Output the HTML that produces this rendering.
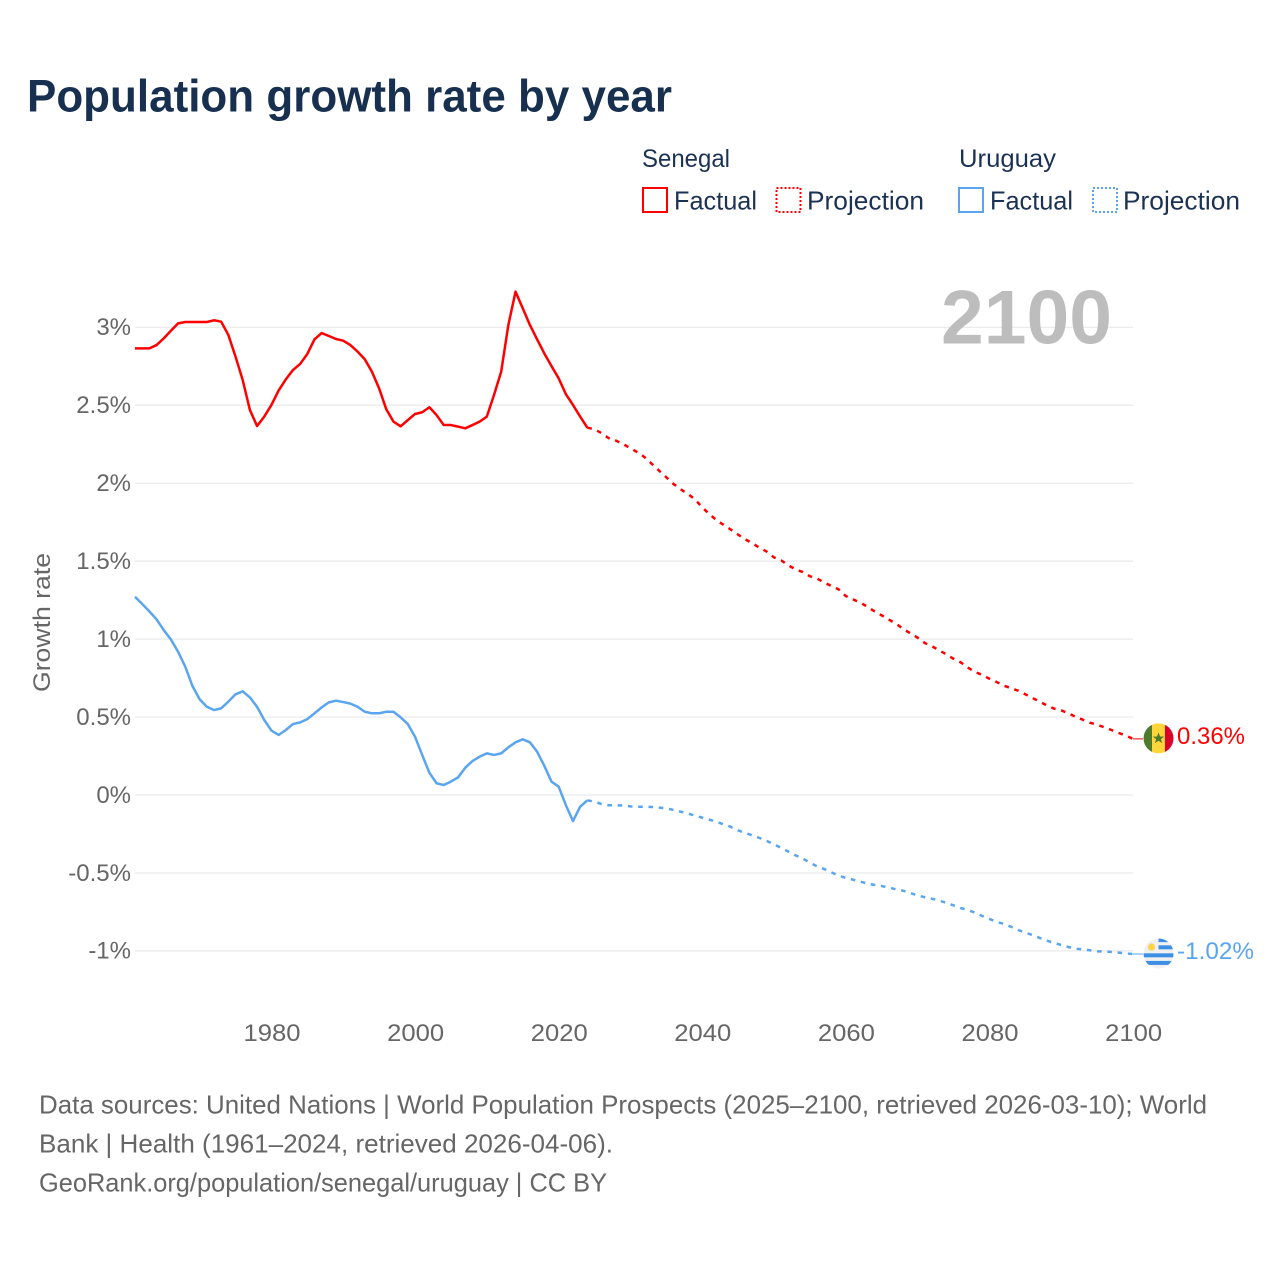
<!DOCTYPE html>
<html lang="en">
<head>
<meta charset="utf-8">
<title>Population growth rate by year</title>
<style>
html,body{margin:0;padding:0;background:#fff;}
svg{display:block;font-family:"Liberation Sans",sans-serif;}
</style>
</head>
<body>
<svg id="chart" xmlns="http://www.w3.org/2000/svg" width="1280" height="1280" viewBox="0 0 1280 1280">
<defs>
<clipPath id="flag-clip"><circle cx="0" cy="0" r="15"/></clipPath>
</defs>
<rect x="0" y="0" width="1280" height="1280" fill="#fff"/>
<text x="27" y="111.5" font-size="45" font-weight="700" fill="#18304f" textLength="645" lengthAdjust="spacingAndGlyphs">Population growth rate by year</text>

<g>
<text x="642" y="167" font-size="25" fill="#1b3254" textLength="88" lengthAdjust="spacingAndGlyphs">Senegal</text>
<rect x="643" y="188" width="24" height="24" fill="none" stroke="#ff0000" stroke-width="2"/>
<text x="674" y="209.5" font-size="26" fill="#1b3254" textLength="83" lengthAdjust="spacingAndGlyphs">Factual</text>
<rect x="776.5" y="188" width="24" height="24" fill="none" stroke="#ff0000" stroke-width="2" stroke-dasharray="2 2"/>
<text x="807" y="209.5" font-size="26" fill="#1b3254" textLength="117" lengthAdjust="spacingAndGlyphs">Projection</text>
<text x="959" y="167" font-size="25" fill="#1b3254" textLength="97" lengthAdjust="spacingAndGlyphs">Uruguay</text>
<rect x="959" y="188" width="24" height="24" fill="none" stroke="#5aa5ef" stroke-width="2"/>
<text x="990" y="209.5" font-size="26" fill="#1b3254" textLength="83" lengthAdjust="spacingAndGlyphs">Factual</text>
<rect x="1093" y="188" width="24" height="24" fill="none" stroke="#5aa5ef" stroke-width="2" stroke-dasharray="2 2"/>
<text x="1123" y="209.5" font-size="26" fill="#1b3254" textLength="117" lengthAdjust="spacingAndGlyphs">Projection</text>
</g>

<g id="grid"></g>
<g id="yticks"></g>
<g id="xticks"></g>

<text x="1112" y="343.5" text-anchor="end" font-size="76" font-weight="700" fill="#bdbdbd" textLength="171" lengthAdjust="spacingAndGlyphs">2100</text>
<text transform="translate(50 692) rotate(-90)" font-size="24" fill="#666666" textLength="139" lengthAdjust="spacingAndGlyphs">Growth rate</text>

<g id="lines"></g>

<g id="flag-senegal" clip-path="url(#flag-clip)">
<rect x="-15" y="-15" width="8.6" height="30" fill="#4d7a2c"/>
<rect x="-6.4" y="-15" width="12.8" height="30" fill="#fdd63a"/>
<rect x="6.4" y="-15" width="8.6" height="30" fill="#d9042b"/>
<polygon points="0,-6 1.5,-1.9 5.7,-1.8 2.4,0.7 3.6,4.8 0,2.4 -3.6,4.8 -2.4,0.7 -5.7,-1.8 -1.5,-1.9" fill="#4d7a2c"/>
</g>
<g id="flag-uruguay" clip-path="url(#flag-clip)">
<rect x="-15" y="-15" width="30" height="30" fill="#f0f0f0"/>
<rect x="0" y="-15" width="15" height="3.6" fill="#3d8fe6"/>
<rect x="0" y="-8.2" width="15" height="4" fill="#3d8fe6"/>
<rect x="-15" y="-0.2" width="30" height="4" fill="#3d8fe6"/>
<rect x="-15" y="7.4" width="30" height="4" fill="#3d8fe6"/>
<circle cx="-7" cy="-6.5" r="3.6" fill="#fcd34d"/>
</g>
<text id="end-label-senegal" x="1177" font-size="24" fill="#ff0000" textLength="68" lengthAdjust="spacingAndGlyphs"></text>
<text id="end-label-uruguay" x="1177" font-size="24" fill="#5aa5ef" textLength="77" lengthAdjust="spacingAndGlyphs"></text>

<g font-size="26" fill="#666666">
<text x="39" y="1113.5" textLength="1168" lengthAdjust="spacingAndGlyphs">Data sources: United Nations | World Population Prospects (2025–2100, retrieved 2026-03-10); World</text>
<text x="39" y="1152.5" textLength="574" lengthAdjust="spacingAndGlyphs">Bank | Health (1961–2024, retrieved 2026-04-06).</text>
<text x="39" y="1191.5" textLength="568" lengthAdjust="spacingAndGlyphs">GeoRank.org/population/senegal/uruguay | CC BY</text>
</g>
</svg>

<script>
const firstYear = 1961;
const projectionFirstYear = 2025;
const yTickValues = [3, 2.5, 2, 1.5, 1, 0.5, 0, -0.5, -1];
const xTickYears = [1980, 2000, 2020, 2040, 2060, 2080, 2100];

const senegalFactual = [
2.865,2.865,2.865,2.886,2.929,2.978,3.025,3.034,3.034,3.034,3.034,3.045,3.036,2.951,2.812,2.662,2.470,2.367,2.427,2.502,
2.594,2.666,2.726,2.765,2.829,2.923,2.963,2.944,2.925,2.914,2.886,2.844,2.795,2.715,2.608,2.474,2.395,2.365,2.405,2.444,
2.455,2.487,2.437,2.373,2.373,2.363,2.352,2.373,2.395,2.427,2.566,2.715,3.015,3.229,3.122,3.015,2.923,2.833,2.752,2.673,
2.572,2.502,2.427,2.356];
const senegalProjection = [
2.346,2.320,2.288,2.273,2.251,2.224,2.198,2.166,2.123,2.080,2.038,1.995,1.961,1.931,1.896,
1.845,1.802,1.762,1.732,1.702,1.670,1.640,1.614,1.586,1.561,1.524,1.505,1.473,1.447,1.430,1.403,1.388,1.362,1.341,1.319,
1.276,1.255,1.234,1.208,1.178,1.152,1.125,1.099,1.065,1.037,1.009,0.975,0.954,0.928,0.902,0.874,0.851,0.817,0.789,0.770,
0.746,0.725,0.701,0.686,0.669,0.646,0.622,0.599,0.575,0.554,0.543,0.524,0.502,0.483,0.464,0.451,0.434,0.417,0.398,0.381,0.36];
const uruguayFactual = [
1.272,1.225,1.178,1.127,1.058,0.998,0.919,0.823,0.699,0.614,0.566,0.545,0.556,0.599,0.646,0.665,0.626,0.566,0.481,0.413,
0.385,0.417,0.455,0.466,0.487,0.524,0.562,0.594,0.605,0.596,0.586,0.566,0.534,0.524,0.524,0.534,0.534,0.498,0.455,0.374,
0.257,0.143,0.075,0.064,0.086,0.113,0.175,0.218,0.246,0.267,0.257,0.267,0.306,0.338,0.357,0.338,0.278,0.188,0.086,0.054,
-0.064,-0.167,-0.075,-0.034];
const uruguayProjection = [
-0.043,-0.058,-0.066,-0.066,-0.068,-0.073,-0.075,-0.075,-0.077,-0.081,-0.085,-0.096,-0.107,-0.118,-0.133,
-0.145,-0.158,-0.173,-0.188,-0.205,-0.227,-0.244,-0.259,-0.276,-0.295,-0.316,-0.340,-0.363,-0.387,-0.408,-0.434,-0.458,-0.475,-0.496,-0.517,
-0.532,-0.543,-0.556,-0.567,-0.577,-0.584,-0.594,-0.605,-0.614,-0.629,-0.644,-0.656,-0.665,-0.678,-0.691,-0.708,-0.725,-0.738,-0.755,-0.776,
-0.795,-0.813,-0.827,-0.845,-0.866,-0.883,-0.898,-0.917,-0.934,-0.949,-0.962,-0.975,-0.986,-0.990,-0.996,-1.003,-1.003,-1.007,-1.011,-1.016,-1.02];

const NS = 'http://www.w3.org/2000/svg';
function xScale(year) { return 135 + (year - 1961) * 7.18; }
function yScale(v) { return 795 - v * 155.9; }
function make(tag, attrs, parent) {
  const el = document.createElementNS(NS, tag);
  for (const k in attrs) el.setAttribute(k, attrs[k]);
  parent.appendChild(el);
  return el;
}
function pathFrom(startYear, values, seed) {
  const pts = values.map(function (v, i) {
    return xScale(startYear + i).toFixed(2) + ' ' + yScale(v).toFixed(2);
  });
  if (seed) pts.unshift(xScale(seed.year).toFixed(2) + ' ' + yScale(seed.value).toFixed(2));
  return 'M' + pts.join('L');
}

const grid = document.getElementById('grid');
const yticks = document.getElementById('yticks');
yTickValues.forEach(function (v) {
  const gl = make('line', {x1: 135, x2: 1133, y1: yScale(v), y2: yScale(v), stroke: '#e9e9e9', 'stroke-width': 1.2}, grid);
  
  
  const t = make('text', {x: 131, y: yScale(v) + 7.8, 'text-anchor': 'end', 'font-size': 24, fill: '#666666'}, yticks);
  
  
  t.textContent = v + '%';
});

const xticks = document.getElementById('xticks');
xTickYears.forEach(function (yr) {
  const t = make('text', {x: xScale(yr) + 0.6, y: 1041, 'text-anchor': 'middle', 'font-size': 24, fill: '#666666', textLength: 57, lengthAdjust: 'spacingAndGlyphs'}, xticks);
  
  
  t.textContent = yr;
});

const lines = document.getElementById('lines');
const projDash = '4.6 5.7';

const senF = make('path', {d: pathFrom(firstYear, senegalFactual), fill: 'none', stroke: '#ff0000', 'stroke-width': 2.5, 'stroke-linejoin': 'round'}, lines);



const senP = make('path', {d: pathFrom(projectionFirstYear, senegalProjection, {year: projectionFirstYear - 1, value: senegalFactual[senegalFactual.length - 1]}), fill: 'none', stroke: '#ff0000', 'stroke-width': 2.5, 'stroke-dasharray': projDash}, lines);



const uruF = make('path', {d: pathFrom(firstYear, uruguayFactual), fill: 'none', stroke: '#5aa5ef', 'stroke-width': 2.5, 'stroke-linejoin': 'round'}, lines);



const uruP = make('path', {d: pathFrom(projectionFirstYear, uruguayProjection, {year: projectionFirstYear - 1, value: uruguayFactual[uruguayFactual.length - 1]}), fill: 'none', stroke: '#5aa5ef', 'stroke-width': 2.5, 'stroke-dasharray': projDash}, lines);



const senEnd = senegalProjection[senegalProjection.length - 1];
const uruEnd = uruguayProjection[uruguayProjection.length - 1];
const endX = xScale(2100);

const senConn = make('line', {x1: endX, x2: endX + 10, y1: yScale(senEnd), y2: yScale(senEnd), stroke: '#ff0000', 'stroke-width': 1}, lines);



const uruConn = make('line', {x1: endX, x2: endX + 10, y1: yScale(uruEnd), y2: yScale(uruEnd), stroke: '#5aa5ef', 'stroke-width': 1}, lines);



document.getElementById('flag-senegal').setAttribute('transform', 'translate(' + (endX + 25.5) + ' ' + (yScale(senEnd) - 0.5) + ')');
document.getElementById('flag-uruguay').setAttribute('transform', 'translate(' + (endX + 25.5) + ' ' + (yScale(uruEnd) - 0.5) + ')');

const senLabel = document.getElementById('end-label-senegal');
senLabel.setAttribute('y', yScale(senEnd) + 5);
senLabel.textContent = senEnd + '%';
const uruLabel = document.getElementById('end-label-uruguay');
uruLabel.setAttribute('y', yScale(uruEnd) + 5);
uruLabel.textContent = uruEnd + '%';
</script>
</body>
</html>
